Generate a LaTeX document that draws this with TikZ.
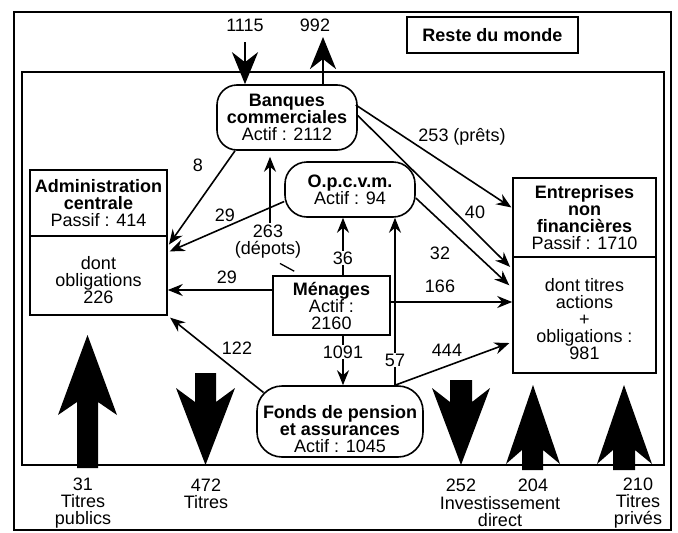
\documentclass[tikz,border=0pt]{standalone}
\usepackage{fontspec}
\setmainfont{Liberation Sans}
\usetikzlibrary{arrows.meta}

\begin{document}
\begin{tikzpicture}[x=1pt,y=-1pt,->,>={Stealth[length=15pt,width=12pt,inset=5pt]},
  line width=1.6pt,font=\fontsize{18}{17}\selectfont,
  round node/.style={draw,fill=white,align=center,inner sep=0pt,rounded corners=20pt},
  box node/.style={draw,fill=white,align=center,inner sep=0pt},
  on line/.style={fill=white,inner sep=1pt},
  big arrow/.style={line width=2.8pt,-{Stealth[length=32pt,width=26pt,inset=10pt]}},
  fat arrow/.style={-,fill=black,draw=none}]

  \useasboundingbox (0,0) rectangle (678,533);
  \draw[-,line width=1.5pt] (14,12) rectangle (671,530);
  \draw[-,line width=1.5pt] (22,72) rectangle (664,465);

  \node[box node,minimum width=171pt,minimum height=36pt] (monde) at (492.5,35) {\textbf{Reste du monde}};

  \node[round node,minimum width=140pt,minimum height=65pt] (banques) at (287,117.5)
    {\textbf{Banques}\\\textbf{commerciales}\\Actif : 2112};
  \node[round node,rounded corners=22pt,minimum width=130pt,minimum height=55pt] (opcvm) at (350,189.5)
    {\textbf{O.p.c.v.m.}\\Actif : 94};
  \node[box node,minimum width=137pt,minimum height=66pt] (adm) at (98.5,203)
    {\textbf{Administration}\\\textbf{centrale}\\Passif : 414};
  \node[box node,minimum width=137pt,minimum height=79pt,text height=56pt] (admb) at (98.5,275.5)
    {dont\\obligations\\226};
  \node[box node,minimum width=143pt,minimum height=79pt] (ent) at (584.5,217.5)
    {\textbf{Entreprises}\\\textbf{non}\\\textbf{financières}\\Passif : 1710};
  \node[box node,minimum width=143pt,minimum height=116pt,text height=90pt] (entb) at (584.5,315)
    {dont titres\\actions\\+\\obligations :\\981};
  \node[box node,minimum width=117pt,minimum height=59pt] (menages) at (331.5,305.5)
    {\textbf{Ménages}\\Actif :\\2160};
  \node[round node,rounded corners=25pt,minimum width=166pt,minimum height=71pt,text height=62pt] (fonds) at (340,421.5)
    {\textbf{Fonds de pension}\\\textbf{et assurances}\\Actif : 1045};

  % rest of world
  \node (n1115) at (245,25) {1115};
  \node (n992) at (315,25) {992};
  \coordinate (top992) at (323,37);
  \draw[big arrow] ([yshift=-7pt]n1115.south) -- (n1115 |- banques.north);
  \draw[big arrow] (banques.north -| top992) -- (top992);

  % flows
  \draw[shorten >=2pt] ([xshift=-52pt]banques.south) -- ([yshift=-11pt]admb.north east);
  \node (l8) at (198,165) {8};
  \draw[shorten >=2pt] ([yshift=-12pt]opcvm.west) -- ([yshift=-17pt]admb.north east);
  \node (l29a) at (225,215) {29};

  \node[align=center,inner sep=1pt] (l263) at (268,241.5) {263\\(dépots)};
  \draw[shorten >=6pt] ([xshift=2pt]l263.north) -- ([xshift=2pt]l263.north |- banques.south);
  \draw[-,line width=1.3pt] ([xshift=12pt,yshift=-3.5pt]l263.south) -- ([xshift=22pt,yshift=4pt]menages.north west);

  \draw ([xshift=11.5pt]menages.north) -- node[on line,pos=0.3] (l36) {36} ([xshift=-7pt]opcvm.south);
  \draw ([xshift=55pt]fonds.north) -- node[on line,pos=0.15] (l57) {57} ([xshift=45pt]opcvm.south);
  \draw ([xshift=11.5pt]menages.south) -- node[on line,pos=0.33] (l1091) {1091} ([xshift=3pt]fonds.north);

  \draw ([yshift=15.5pt]menages.west) -- ([yshift=-14.5pt]admb.east);
  \node (l29b) at (227,277) {29};
  \draw ([yshift=3.5pt]menages.east) -- ([yshift=13pt]entb.west);
  \node (l166) at (440,286) {166};

  \draw[shorten >=3pt] ([xshift=7.3pt,yshift=-7.3pt]fonds.north west) -- (admb.south east);
  \node (l122) at (237,348) {122};
  \draw[shorten >=3pt] ([xshift=55pt]fonds.north) -- ([yshift=-27pt]entb.west);
  \node (l444) at (447,350) {444};

  \draw[shorten >=1pt] ([xshift=-2pt,yshift=12.5pt]banques.east) -- ([yshift=9.5pt]ent.west);
  \node (l253) at (462,137) {253 (prêts)};
  \draw[shorten >=3pt] ([yshift=2pt]banques.east) -- ([yshift=46pt]entb.west);
  \node (l40) at (475,212) {40};
  \draw[shorten >=4pt] ([yshift=-8.5pt]opcvm.east) -- ([yshift=27pt]entb.west);
  \node (l32) at (440,253) {32};

  % big flows across the border
  \fill[fat arrow] (77,468) -- (77,402) -- (58,415) -- (87.5,335) -- (117,415) -- (98,402) -- (98,468) -- cycle;
  \fill[fat arrow] (195,373) -- (195,402) -- (176,388) -- (205.5,465) -- (235,388) -- (216,402) -- (216,373) -- cycle;
  \fill[fat arrow] (450,380) -- (450,402) -- (432,388) -- (461,465) -- (490,388) -- (472,402) -- (472,380) -- cycle;
  \fill[fat arrow] (522,470) -- (522,450) -- (506,464) -- (533,385) -- (560,464) -- (543,450) -- (543,470) -- cycle;
  \fill[fat arrow] (613,470) -- (613,450) -- (597,464) -- (624,385) -- (652,464) -- (635,450) -- (635,470) -- cycle;

  \node[align=center] (b31) at (83,503) {31\\Titres\\publics};
  \node[align=center] (b472) at (206,494) {472\\Titres};
  \node (b252) at (461,485) {252};
  \node (b204) at (533,485) {204};
  \node[align=center] (binv) at (500,511.5) {Investissement\\direct};
  \node[align=center] (b210) at (638,503) {210\\Titres\\privés};
\end{tikzpicture}
\end{document}
